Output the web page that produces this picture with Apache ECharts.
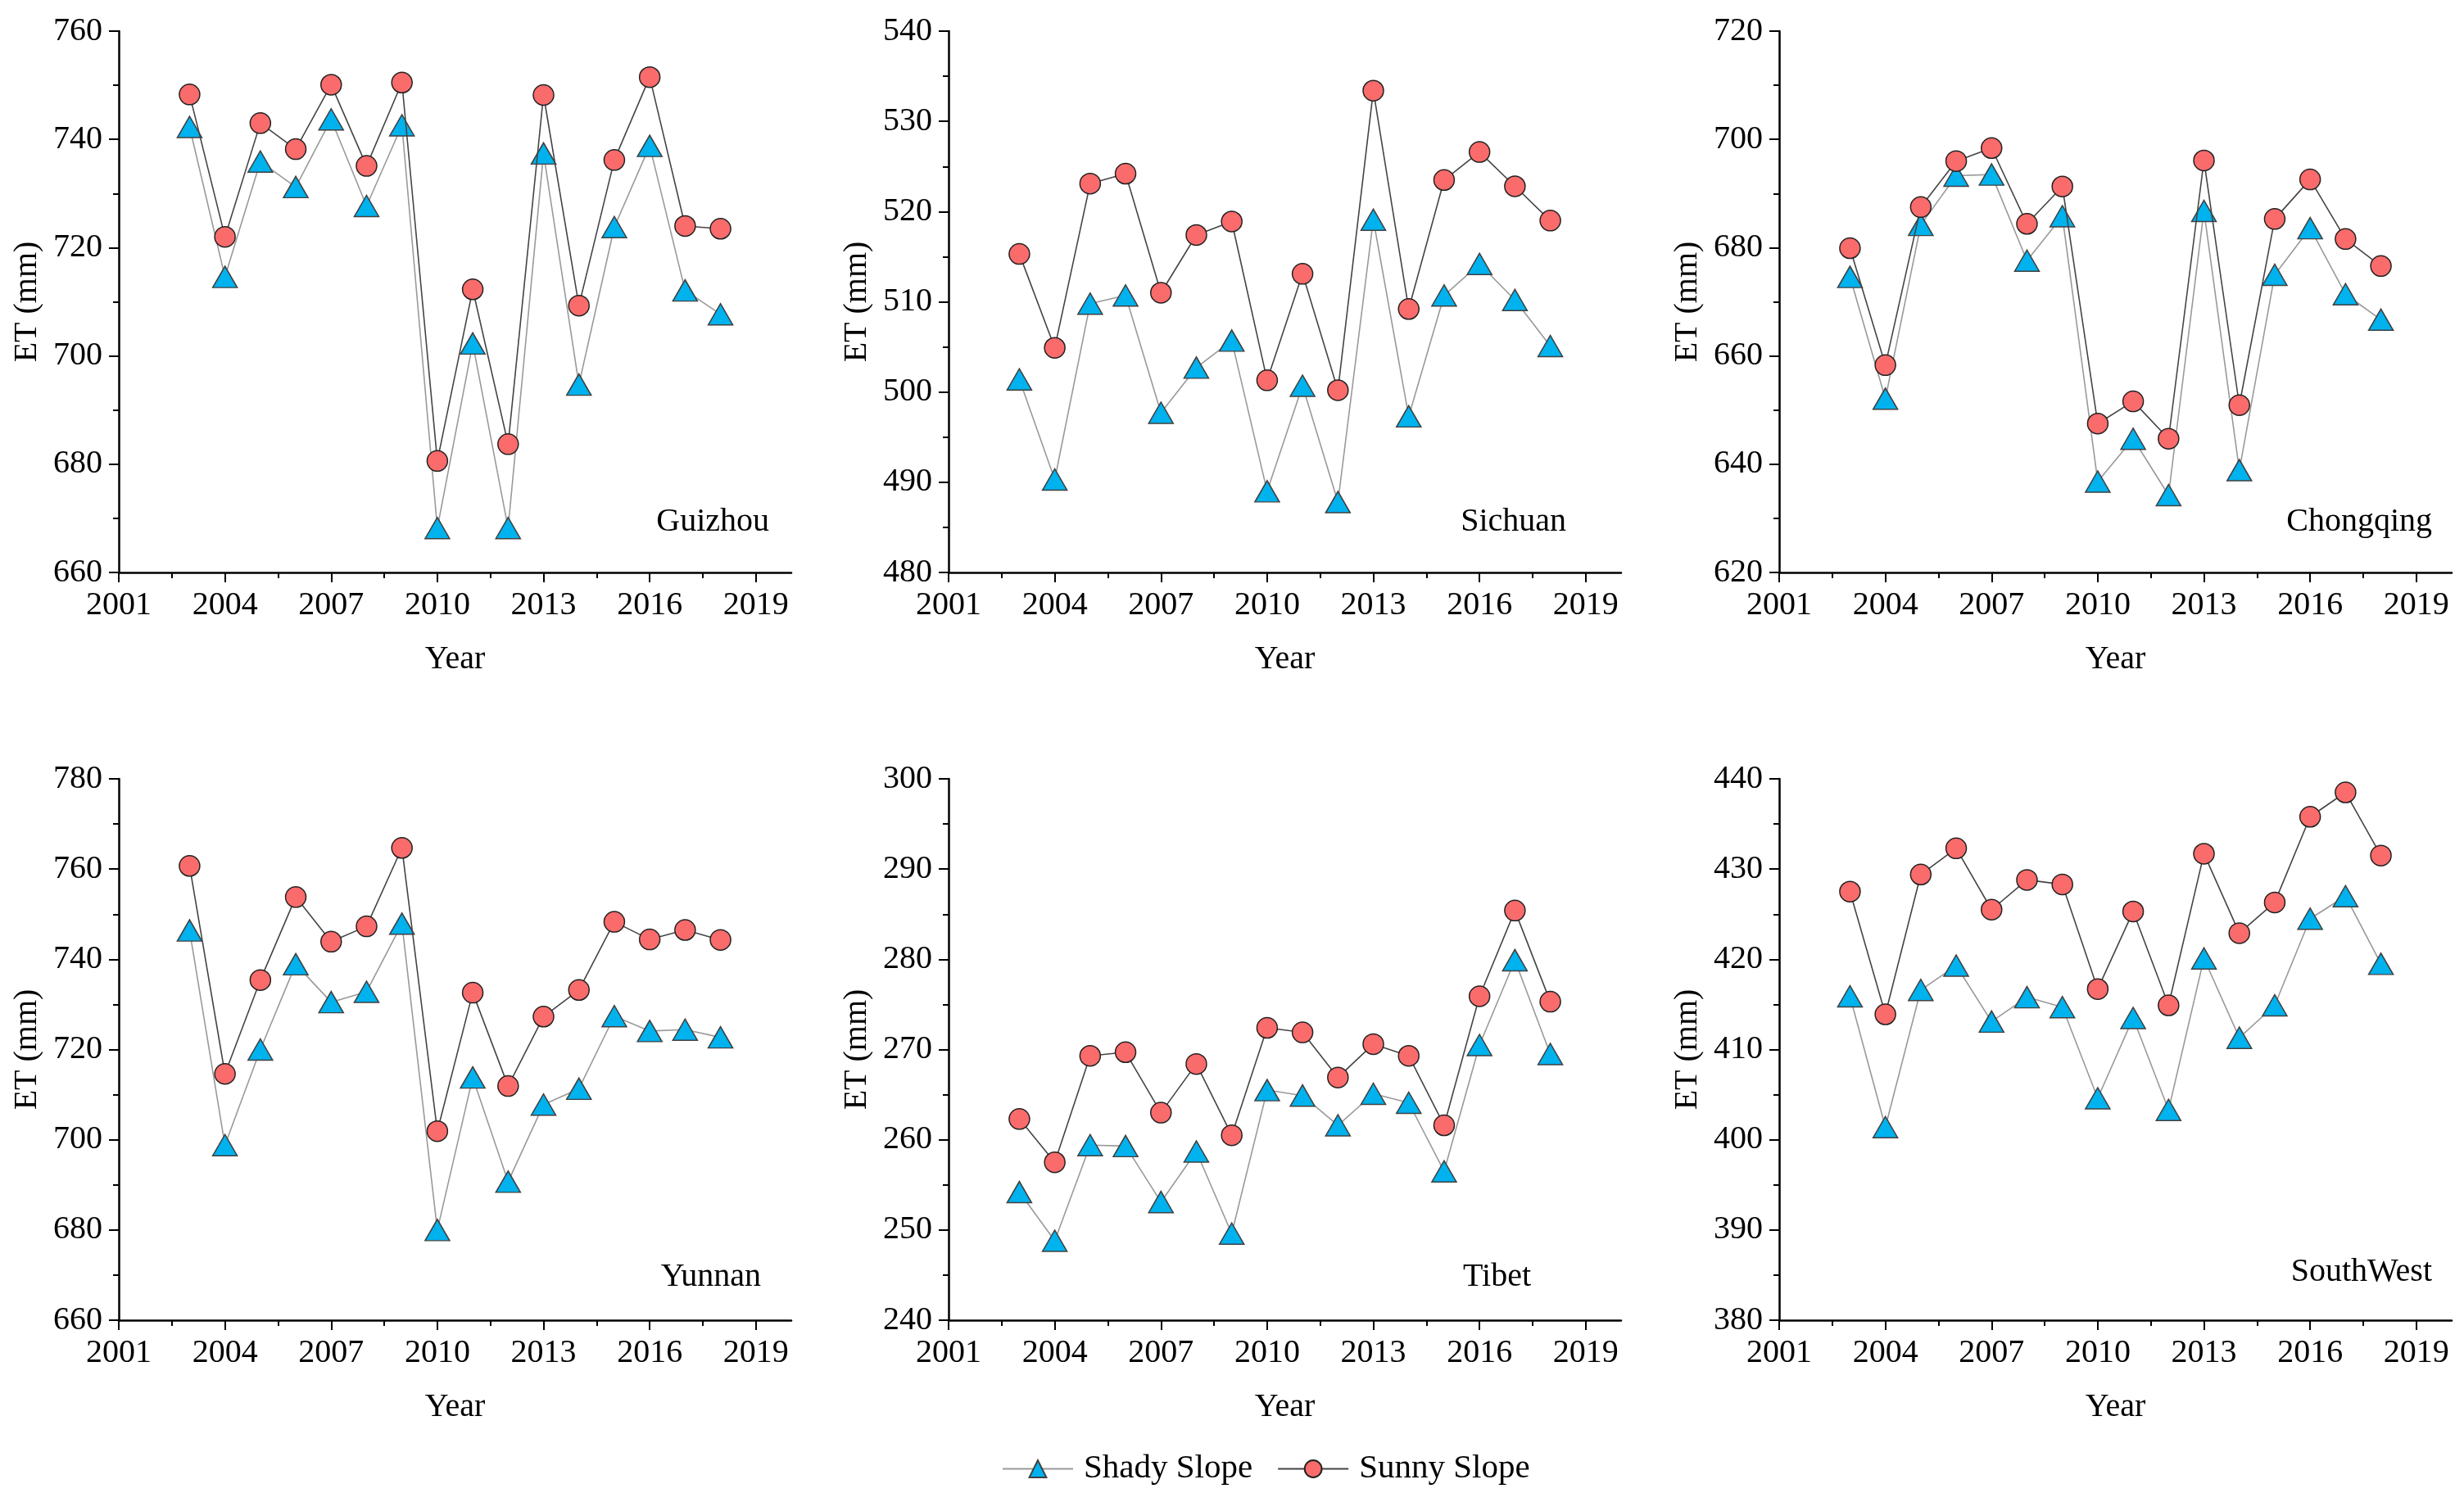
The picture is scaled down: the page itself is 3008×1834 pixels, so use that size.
<!DOCTYPE html>
<html>
<head>
<meta charset="utf-8">
<script src="https://cdn.jsdelivr.net/npm/echarts@6/dist/echarts.min.js"></script>
<style>
html,body{margin:0;padding:0;background:#fff;}
#chart{width:3008px;height:1834px;}
</style>
</head>
<body>
<div id="chart"></div>
<script>
const years = [2003,2004,2005,2006,2007,2008,2009,2010,2011,2012,2013,2014,2015,2016,2017,2018];
const xTickLabels = [2001,2004,2007,2010,2013,2016,2019];
const xMinorTicks = [2002.5,2005.5,2008.5,2011.5,2014.5,2017.5];

const guizhouShady = [742.3,714.6,735.9,731.2,743.7,727.7,742.6,668.2,702.3,668.2,737.4,694.7,723.8,738.8,712.1,707.7];
const guizhouSunny = [748.3,722.0,743.0,738.2,750.1,735.1,750.5,680.6,712.3,683.7,748.2,709.3,736.2,751.5,724.0,723.5];

const sichuanShady = [501.4,490.3,509.8,510.7,497.7,502.7,505.7,489.0,500.7,487.8,519.1,497.3,510.7,514.2,510.2,505.1];
const sichuanSunny = [515.3,504.9,523.1,524.2,511.0,517.4,518.9,501.3,513.1,500.2,533.4,509.2,523.5,526.6,522.8,519.0];

const chongqingShady = [674.6,652.1,684.2,693.3,693.5,677.6,685.8,636.8,644.7,634.3,686.8,638.9,675.0,683.6,671.4,666.7];
const chongqingSunny = [679.9,658.3,687.5,696.0,698.4,684.4,691.3,647.5,651.6,644.7,696.1,650.9,685.3,692.6,681.6,676.6];

const yunnanShady = [746.4,698.8,720.0,738.9,730.5,732.8,747.9,680.0,713.8,690.7,707.8,711.3,727.4,724.1,724.4,722.7];
const yunnanSunny = [760.7,714.6,735.4,753.8,743.9,747.3,764.7,701.9,732.6,711.9,727.3,733.2,748.3,744.4,746.5,744.3];

const tibetShady = [254.2,248.8,259.4,259.3,253.1,258.7,249.6,265.5,264.9,261.6,265.1,264.1,256.5,270.5,279.9,269.5];
const tibetSunny = [262.3,257.5,269.3,269.7,263.0,268.4,260.5,272.4,271.9,266.9,270.6,269.3,261.6,275.9,285.4,275.3];

const southwestShady = [415.9,401.4,416.6,419.3,413.1,415.8,414.7,404.6,413.5,403.3,420.1,411.3,414.9,424.5,427.0,419.5];
const southwestSunny = [427.5,413.9,429.4,432.3,425.5,428.8,428.3,416.7,425.3,414.9,431.7,422.9,426.3,435.8,438.5,431.5];

const panelNames = ['Guizhou','Sichuan','Chongqing','Yunnan','Tibet','SouthWest'];
const yMins = [660,480,620,660,240,380];
const yMaxs = [760,540,720,780,300,440];
const yIntervals = [20,10,20,20,10,10];
const shadyData = [guizhouShady,sichuanShady,chongqingShady,yunnanShady,tibetShady,southwestShady];
const sunnyData = [guizhouSunny,sichuanSunny,chongqingSunny,yunnanSunny,tibetSunny,southwestSunny];

const FONT = '"Liberation Serif", "Times New Roman", serif';
const lefts = [145,1158,2172];
const tops = [38,951];
const W = 821, H = 661;
// panel label placement (right edge, baseline) in page pixels
const labelRight = [939,1912,2969,929,1869,2969];
const labelBase = [651,651,651,1573,1573,1567];

const grids = [], xAxes = [], xMinor = [], yAxes = [], series = [], graphics = [];
for (let i = 0; i < 6; i++) {
  const col = i % 3, row = Math.floor(i / 3);
  const left = lefts[col], top = tops[row];
  grids.push({left: left, top: top, width: W, height: H, containLabel: false});
  xAxes.push({
    type: 'value', gridIndex: i, min: 2001, max: 2020, position: 'bottom',
    name: 'Year', nameLocation: 'middle', nameGap: 86,
    nameTextStyle: {fontFamily: FONT, fontSize: 40, color: '#000'},
    axisLine: {show: true, onZero: false, lineStyle: {color: '#000', width: 2.5}},
    axisTick: {show: true, length: 12, customValues: xTickLabels, lineStyle: {color: '#000', width: 2}},
    axisLabel: {customValues: xTickLabels, formatter: v => String(v), fontFamily: FONT, fontSize: 40, color: '#000', margin: 20},
    splitLine: {show: false}
  });
  xMinor.push({
    type: 'value', gridIndex: i, min: 2001, max: 2020, position: 'bottom',
    axisLine: {show: false, onZero: false},
    axisTick: {show: true, length: 7, customValues: xMinorTicks, lineStyle: {color: '#000', width: 2}},
    axisLabel: {show: false},
    splitLine: {show: false}
  });
  yAxes.push({
    type: 'value', gridIndex: i, min: yMins[i], max: yMaxs[i], interval: yIntervals[i],
    name: 'ET (mm)', nameLocation: 'middle', nameGap: 92,
    nameTextStyle: {fontFamily: FONT, fontSize: 40, color: '#000'},
    axisLine: {show: true, onZero: false, lineStyle: {color: '#000', width: 2.5}},
    axisTick: {show: true, length: 12, lineStyle: {color: '#000', width: 2}},
    minorTick: {show: true, splitNumber: 2, length: 7, lineStyle: {color: '#000', width: 2}},
    axisLabel: {fontFamily: FONT, fontSize: 40, color: '#000', margin: 20},
    splitLine: {show: false}
  });
  series.push({
    name: 'Shady Slope', type: 'line', xAxisIndex: i, yAxisIndex: i,
    data: years.map((y, k) => [y, shadyData[i][k]]),
    symbol: 'triangle', symbolSize: [30, 26],
    lineStyle: {color: '#999999', width: 1.6},
    itemStyle: {color: '#00B2EE', borderColor: '#404040', borderWidth: 1.5},
    emphasis: {disabled: true}, z: 2
  });
  series.push({
    name: 'Sunny Slope', type: 'line', xAxisIndex: i, yAxisIndex: i,
    data: years.map((y, k) => [y, sunnyData[i][k]]),
    symbol: 'circle', symbolSize: 25,
    lineStyle: {color: '#444444', width: 1.6},
    itemStyle: {color: '#FA6B6B', borderColor: '#222222', borderWidth: 1.5},
    emphasis: {disabled: true}, z: 3
  });
  graphics.push({
    type: 'text', x: labelRight[i], y: labelBase[i] - 14,
    style: {text: panelNames[i], font: '40px ' + FONT, fill: '#000', align: 'right', verticalAlign: 'middle'}
  });
}

const chart = echarts.init(document.getElementById('chart'), null, {renderer: 'canvas'});
chart.setOption({
  animation: false,
  backgroundColor: '#fff',
  grid: grids,
  xAxis: xAxes.concat(xMinor),
  yAxis: yAxes,
  series: series,
  graphic: graphics,
  legend: {
    data: ['Shady Slope', 'Sunny Slope'],
    left: 1218, top: 1768,
    itemWidth: 86, itemHeight: 26, itemGap: 30,
    textStyle: {fontFamily: FONT, fontSize: 41, color: '#000', padding: [0, 0, 0, 8]}
  }
});
</script>
</body>
</html>
